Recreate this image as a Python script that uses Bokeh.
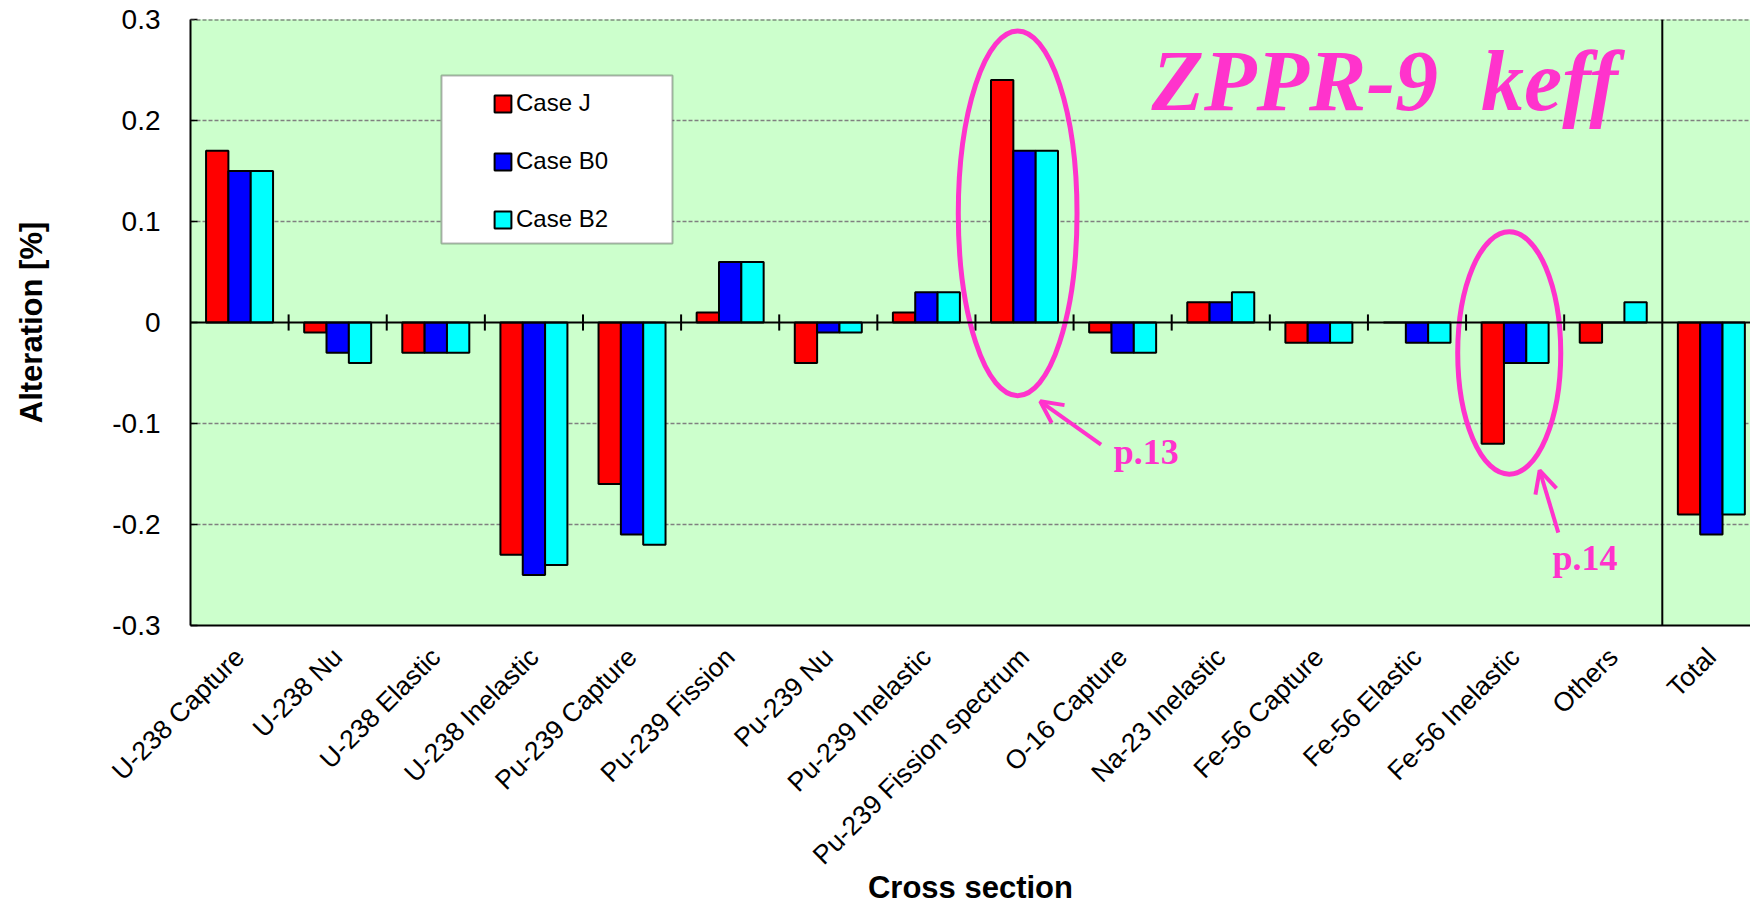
import math
from bokeh.plotting import figure
from bokeh.models import (Range1d, FixedTicker, Span, BoxAnnotation, Legend, LegendItem,
                          Arrow, OpenHead, Label, ColumnDataSource)
from bokeh.embed import file_html
from bokeh.resources import INLINE

# ---------------- data ----------------
categories = ["U-238 Capture", "U-238 Nu", "U-238 Elastic", "U-238 Inelastic",
              "Pu-239 Capture", "Pu-239 Fission", "Pu-239 Nu", "Pu-239 Inelastic",
              "Pu-239 Fission spectrum", "O-16 Capture", "Na-23 Inelastic",
              "Fe-56 Capture", "Fe-56 Elastic", "Fe-56 Inelastic", "Others", "Total"]
case_j = [0.17, -0.01, -0.03, -0.23, -0.16, 0.01, -0.04, 0.01,
          0.24, -0.01, 0.02, -0.02, 0.0, -0.12, -0.02, -0.19]
case_b0 = [0.15, -0.03, -0.03, -0.25, -0.21, 0.06, -0.01, 0.03,
           0.17, -0.03, 0.02, -0.02, -0.02, -0.04, 0.0, -0.21]
case_b2 = [0.15, -0.04, -0.03, -0.24, -0.22, 0.06, -0.01, 0.03,
           0.17, -0.03, 0.03, -0.02, -0.02, -0.04, 0.02, -0.19]
series_names = ["Case J", "Case B0", "Case B2"]
y_ticks = [-0.3, -0.2, -0.1, 0, 0.1, 0.2, 0.3]
y_tick_labels = ["-0.3", "-0.2", "-0.1", "0", "0.1", "0.2", "0.3"]
x_title = "Cross section"
y_title = "Alteration [%]"

# ---------------- styling ----------------
FONT = "Liberation Sans"
SERIF = "Liberation Serif"
MAG = "#FF33CC"
colors = ["#FF0000", "#0000FF", "#00FFFF"]
BG = "#CCFFCC"

W, H = 1750, 908
n = len(categories)
cat_px = 98.12
left_border = 190
frame_w = W - left_border
x_end = frame_w / cat_px

p = figure(width=W, height=H, output_backend="svg", toolbar_location=None,
           x_range=Range1d(0, x_end), y_range=Range1d(-0.3, 0.3),
           min_border_left=left_border, min_border_right=0, min_border_top=19,
           min_border_bottom=H - 625)
p.background_fill_color = BG
p.border_fill_color = "white"
p.outline_line_color = None

# grid
p.xgrid.visible = False
p.ygrid.ticker = FixedTicker(ticks=[-0.2, -0.1, 0.1, 0.2])
p.ygrid.grid_line_color = "#808080"
p.ygrid.grid_line_dash = "4 2"
p.ygrid.grid_line_width = 1.5
p.add_layout(Span(location=0.3, dimension="width", line_color="#555555",
                  line_dash="4 2", line_width=2))

# y axis
p.yaxis.ticker = FixedTicker(ticks=y_ticks)
p.yaxis.major_label_overrides = {t: s for t, s in zip(y_ticks, y_tick_labels)}
p.yaxis.major_tick_in = 7
p.yaxis.major_tick_out = 0
p.yaxis.minor_tick_line_color = None
p.yaxis.axis_line_color = "black"
p.yaxis.axis_line_width = 2
p.yaxis.major_tick_line_width = 1.5
p.yaxis.major_label_standoff = 30
p.yaxis.major_label_text_font = FONT
p.yaxis.major_label_text_font_size = "28px"
p.yaxis.major_label_text_color = "black"
p.yaxis.axis_label = y_title
p.yaxis.axis_label_text_font = FONT
p.yaxis.axis_label_text_font_style = "bold"
p.yaxis.axis_label_text_font_size = "31px"
p.yaxis.axis_label_text_color = "black"
p.yaxis.axis_label_standoff = 60

# x axis
centers = [i + 0.5 for i in range(n)]
p.xaxis.ticker = FixedTicker(ticks=centers)
p.xaxis.major_label_overrides = {c: name for c, name in zip(centers, categories)}
p.xaxis.major_label_orientation = math.pi / 4
p.xaxis.major_tick_in = 0
p.xaxis.major_tick_out = 0
p.xaxis.minor_tick_line_color = None
p.xaxis.axis_line_color = "black"
p.xaxis.axis_line_width = 2
p.xaxis.major_label_standoff = 27
p.xaxis.major_label_text_font = FONT
p.xaxis.major_label_text_font_size = "26.5px"
p.xaxis.major_label_text_color = "black"
p.xaxis.axis_label = x_title
p.xaxis.axis_label_text_font = FONT
p.xaxis.axis_label_text_font_style = "bold"
p.xaxis.axis_label_text_font_size = "31px"
p.xaxis.axis_label_text_color = "black"
p.xaxis.axis_label_standoff = -14

# bars
bw = 0.2276
renderers = []
for k, (vals, col) in enumerate(zip([case_j, case_b0, case_b2], colors)):
    src = ColumnDataSource(dict(x=[c + (k - 1) * bw for c in centers], top=vals))
    r = p.vbar(x="x", top="top", bottom=0, width=bw, source=src,
               fill_color=col, line_color="black", line_width=2)
    renderers.append(r)

# zero line, category ticks, Total separator
p.add_layout(Span(location=0, dimension="width", line_color="black", line_width=2))
bounds = list(range(1, n - 1))
p.segment(x0=bounds, y0=[-0.008] * len(bounds), x1=bounds, y1=[0.008] * len(bounds),
          line_color="black", line_width=2)
p.add_layout(Span(location=n - 1, dimension="height", line_color="black", line_width=2))

# legend box + legend
p.add_layout(BoxAnnotation(left=2.558, right=4.912, top=0.2446, bottom=0.0782,
                           fill_color="white", fill_alpha=1.0,
                           line_color="black", line_width=2, level="overlay"))
legend = Legend(items=[LegendItem(label=nm, renderers=[r]) for nm, r in zip(series_names, renderers)],
                location=(302, 392), padding=0, spacing=30, margin=0,
                glyph_width=21, glyph_height=21, label_height=21, label_standoff=3,
                label_text_font=FONT, label_text_font_size="24px", label_text_color="black",
                border_line_alpha=0, background_fill_alpha=0)
p.add_layout(legend, "center")
legend.level = "overlay"

# annotations
fs = categories.index("Pu-239 Fission spectrum")
fe = categories.index("Fe-56 Inelastic")
p.ellipse(x=[fs + 0.43, fe + 0.44], y=[0.108, -0.0302], width=[1.21, 1.05],
          height=[0.361, 0.24], fill_alpha=0, line_color=MAG, line_width=5)
p.add_layout(Arrow(end=OpenHead(size=22, line_color=MAG, line_width=4),
                   x_start=fs + 1.28, y_start=-0.121, x_end=fs + 0.66, y_end=-0.078,
                   line_color=MAG, line_width=4))
p.add_layout(Arrow(end=OpenHead(size=22, line_color=MAG, line_width=4),
                   x_start=fe + 0.94, y_start=-0.208, x_end=fe + 0.75, y_end=-0.1465,
                   line_color=MAG, line_width=4))
p.add_layout(Label(x=fs + 1.41, y=-0.1287, text="p.13", text_font=SERIF,
                   text_font_style="bold", text_font_size="36px", text_color=MAG,
                   text_baseline="alphabetic"))
p.add_layout(Label(x=fe + 0.88, y=-0.2327, text="p.14", text_font=SERIF,
                   text_font_style="bold", text_font_size="36px", text_color=MAG,
                   text_baseline="alphabetic"))
p.add_layout(Label(x=9.794, y=0.2396, text="ZPPR-9\u00a0\u00a0keff", text_font=SERIF,
                   text_font_style="bold italic", text_font_size="86px", text_color=MAG,
                   text_baseline="alphabetic"))

open("out.html", "w").write(file_html(p, INLINE))
